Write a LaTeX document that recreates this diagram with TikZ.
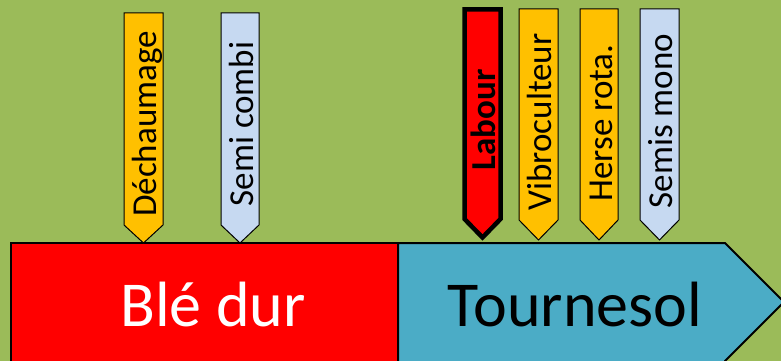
\documentclass[tikz,border=0pt]{standalone}
\usepackage{fontspec}
\setmainfont{Carlito}
\definecolor{bggreen}{HTML}{9BBB59}
\definecolor{ptorange}{HTML}{FFC000}
\definecolor{ptblue}{HTML}{C6D9F1}
\definecolor{cropred}{HTML}{FF0000}
\definecolor{cropteal}{HTML}{4BACC6}
\newcommand{\mypointer}[6]{% x1, x2, top, shoulder, tip, style
  \draw[#6] (#1,#3) -- (#2,#3) -- (#2,#4) -- ({(#1+#2)/2},#5) -- (#1,#4) -- cycle;}
\tikzset{
  ptr/.style={draw=black, line width=1pt, line join=miter},
  ptrlabel/.style={rotate=90, anchor=base, inner sep=0pt, font=\fontsize{35}{38}\selectfont},
  croplabel/.style={anchor=base, inner sep=0pt, font=\fontsize{64}{72}\selectfont},
  cropshape/.style={draw=black, line width=2pt, line join=miter}
}
\begin{document}
\begin{tikzpicture}[x=1pt,y=-1pt]
\useasboundingbox (0,0) rectangle (781,361);
\clip (0,0) rectangle (781,361);
\fill[bggreen] (0,0) rectangle (781,361);
% crops
\draw[cropshape, fill=cropred] (11,243) rectangle (398,380);
\draw[cropshape, fill=cropteal] (398,380) -- (398,243) -- (725,243) -- (784,302) -- (725,361) -- (725,380);
\node[croplabel, text=white] (ble) at (213,326) {Blé dur};
\node[croplabel, text=black] (tour) at (575,326) {Tournesol};
% pointers
\mypointer{124}{163}{13}{225}{243}{ptr, fill=ptorange}
\node[ptrlabel] (dech) at (156,124) {Déchaumage};
\mypointer{221}{259}{13}{225}{243}{ptr, fill=ptblue}
\node[ptrlabel] (semic) at (253,124) {Semi combi};
\mypointer{464.5}{500.5}{9.5}{219}{237.5}{ptr, line width=4.5pt, fill=cropred}
\node[ptrlabel, font=\fontsize{35}{38}\selectfont\bfseries] (lab) at (495.5,120) {Labour};
\mypointer{519}{558}{9}{220}{240}{ptr, fill=ptorange}
\node[ptrlabel] (vib) at (551.5,122) {Vibroculteur};
\mypointer{580}{618}{9}{220}{240}{ptr, fill=ptorange}
\node[ptrlabel] (herse) at (612,123) {Herse rota.};
\mypointer{640}{679}{9}{220}{240}{ptr, fill=ptblue}
\node[ptrlabel] (semim) at (672.5,121) {Semis mono};
\end{tikzpicture}
\end{document}
